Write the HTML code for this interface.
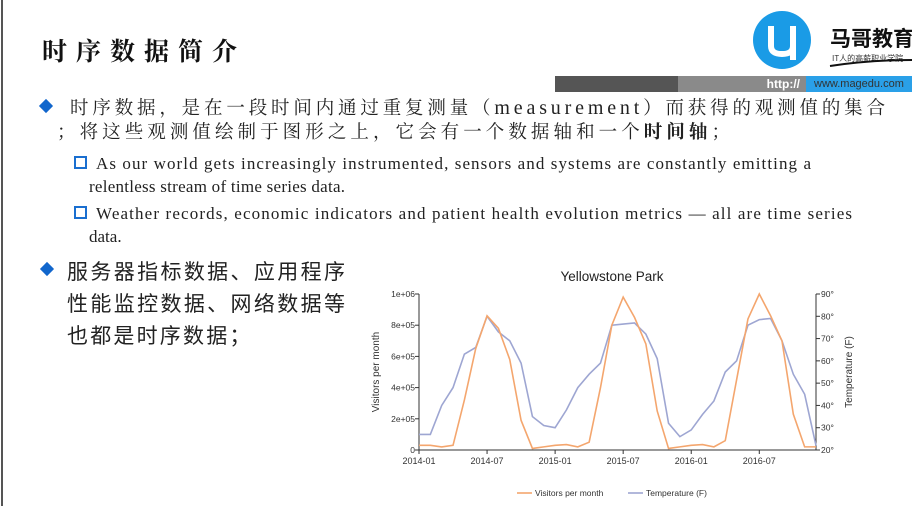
<!DOCTYPE html>
<html><head><meta charset="utf-8"><style>
body{margin:0;width:912px;height:506px;background:#fff;position:relative;overflow:hidden;font-family:"Liberation Sans","Noto Sans CJK SC",sans-serif}
.abs{position:absolute;white-space:nowrap}
.jl{text-align:justify;text-align-last:justify}
.dia{position:absolute;width:10px;height:10px;background:#1166cc;transform:rotate(45deg)}
.sq{position:absolute;width:9px;height:9px;border:2px solid #1a6fd0}
</style></head><body>
<div class="abs" style="left:1px;top:0;width:2px;height:506px;background:#555"></div>
<div class="abs" style="left:42px;top:32px;font-size:25px;letter-spacing:9px;font-family:'Noto Serif CJK SC',serif;font-weight:bold;color:#111">时序数据简介</div>
<svg class="abs" style="left:750px;top:8px" width="162" height="66">
<circle cx="32" cy="32" r="29" fill="#1a9be6"/>
<path d="M21 18 V38 Q21 46 32 46 Q43 46 43 38 V18" fill="none" stroke="#fff" stroke-width="6"/>
<path d="M43 38 V52" stroke="#fff" stroke-width="6"/>
<text x="80" y="38" font-size="21" font-weight="bold" font-family="Noto Sans CJK SC,sans-serif" fill="#111">马哥教育</text>
<text x="82" y="53" font-size="8" font-family="Noto Sans CJK SC,sans-serif" fill="#333">IT人的高薪职业学院</text>
<path d="M80 58 Q120 52 162 52" stroke="#111" stroke-width="2" fill="none"/>
</svg>
<div class="abs" style="left:555px;top:76px;width:357px;height:16px">
<div class="abs" style="left:0;top:0;width:123px;height:16px;background:#555"></div>
<div class="abs" style="left:123px;top:0;width:128px;height:16px;background:#8a8a8a;color:#fff;font-size:12px;font-weight:bold;text-align:right;line-height:16px"><span style="padding-right:6px">http://</span></div>
<div class="abs" style="left:251px;top:0;width:106px;height:16px;background:#2aa0e8;color:#333;font-size:11px;line-height:16px;padding-left:8px">www.magedu.com</div>
</div>

<div class="dia" style="left:41px;top:101px"></div>
<div class="sq" style="left:74px;top:156px"></div>
<div class="sq" style="left:74px;top:206px"></div>
<svg class="abs" style="left:0;top:0" width="912" height="250" font-family="Liberation Serif, Noto Serif CJK SC, serif" fill="#222">
<text x="70" y="114" font-size="18.5" textLength="815" lengthAdjust="spacing">时序数据，是在一段时间内通过重复测量（<tspan font-size="20">measurement</tspan>）而获得的观测值的集合</text>
<text x="57" y="138" font-size="18.5" textLength="673" lengthAdjust="spacing">；将这些观测值绘制于图形之上，它会有一个数据轴和一个<tspan font-weight="bold">时间轴</tspan>；</text>
<text x="96" y="169" font-size="17" textLength="715" lengthAdjust="spacing">As our world gets increasingly instrumented, sensors and systems are constantly emitting a</text>
<text x="89" y="192" font-size="17" textLength="256" lengthAdjust="spacing">relentless stream of time series data.</text>
<text x="96" y="219" font-size="17" textLength="756" lengthAdjust="spacing">Weather records, economic indicators and patient health evolution metrics — all are time series</text>
<text x="89" y="242" font-size="17">data.</text>
</svg>

<div class="dia" style="left:42px;top:264px"></div>
<div class="abs jl" style="left:67px;top:256px;width:278px;font-size:21px;color:#222">服务器指标数据、应用程序</div>
<div class="abs jl" style="left:67px;top:288px;width:278px;font-size:21px;color:#222">性能监控数据、网络数据等</div>
<div class="abs" style="left:67px;top:320px;font-size:21px;letter-spacing:2.2px;color:#222">也都是时序数据；</div>

<svg id="chart" class="abs" style="left:0;top:0" width="912" height="506"></svg>
<script>
const months=[];for(let y=2014;y<=2016;y++)for(let m=1;m<=12;m++)months.push(y+'-'+String(m).padStart(2,'0'));
const visitors=[0.3,0.3,0.2,0.3,3.2,6.5,8.6,7.8,5.8,1.9,0.1,0.2, 0.3,0.35,0.2,0.5,4.0,8.0,9.8,8.5,6.8,2.5,0.1,0.2, 0.3,0.35,0.2,0.6,4.5,8.4,10.0,8.6,7.0,2.3,0.2,0.2].map(v=>v*1e5);
const temperature=[27,27,40,48,63,66,80,73,69,59,35,31, 30,38,48,54,59,76,76.5,77,72,61,32,26, 29,36,42,55,60,76,78.5,79,69,54,45,22];
const leftTicks=[0,2e5,4e5,6e5,8e5,1e6];
const leftTickLabels=['0','2e+05','4e+05','6e+05','8e+05','1e+06'];
const rightTicks=[20,30,40,50,60,70,80,90];
const xTickIdx=[0,6,12,18,24,30];
const X0=419,X1=816,Y0=450,Y1=294;
const x=i=>X0+(X1-X0)*i/(months.length-1);
const yL=v=>Y0-(Y0-Y1)*v/1e6;
const yR=t=>Y0-(Y0-Y1)*(t-20)/70;
const svg=document.getElementById('chart');const NS='http://www.w3.org/2000/svg';
function mk(tag,attrs,txt){const e=document.createElementNS(NS,tag);for(const k in attrs)e.setAttribute(k,attrs[k]);if(txt!=null)e.textContent=txt;svg.appendChild(e);return e;}
let e;
e=mk('text',{x:612,y:281,'font-size':13.5,'text-anchor':'middle',fill:'#222'},'Yellowstone Park');


e=mk('line',{x1:X0,y1:Y1,x2:X0,y2:Y0,stroke:'#333'});


e=mk('line',{x1:X0,y1:Y0,x2:X1,y2:Y0,stroke:'#333'});


e=mk('line',{x1:X1,y1:Y1,x2:X1,y2:Y0,stroke:'#333'});


leftTicks.forEach((v,i)=>{mk('line',{x1:X0-4,x2:X0,y1:yL(v),y2:yL(v),stroke:'#333'});
e=mk('text',{x:X0-4,y:yL(v)+3,'font-size':8.5,'text-anchor':'end',fill:'#333'},leftTickLabels[i]);

});
rightTicks.forEach(t=>{mk('line',{x1:X1,x2:X1+4,y1:yR(t),y2:yR(t),stroke:'#333'});
e=mk('text',{x:X1+5,y:yR(t)+3,'font-size':8.5,fill:'#333'},t+'°');

});
xTickIdx.forEach(i=>{mk('line',{x1:x(i),x2:x(i),y1:Y0,y2:Y0+4,stroke:'#333'});
e=mk('text',{x:x(i),y:Y0+14,'font-size':9,'text-anchor':'middle',fill:'#333'},months[i]);

});
e=mk('text',{x:0,y:0,'font-size':10,'text-anchor':'middle',fill:'#333',transform:'translate(379,372) rotate(-90)'},'Visitors per month');


e=mk('text',{x:0,y:0,'font-size':10,'text-anchor':'middle',fill:'#333',transform:'translate(852,372) rotate(-90)'},'Temperature (F)');


e=mk('polyline',{points:temperature.map((t,i)=>x(i)+','+yR(t)).join(' '),fill:'none',stroke:'#9ea6d2','stroke-width':1.6});


e=mk('polyline',{points:visitors.map((v,i)=>x(i)+','+yL(v)).join(' '),fill:'none',stroke:'#f4a66e','stroke-width':1.6});


mk('line',{x1:517,x2:532,y1:493,y2:493,stroke:'#f4a66e','stroke-width':1.6});
e=mk('text',{x:535,y:496,'font-size':8.5,fill:'#333'},'Visitors per month');


mk('line',{x1:628,x2:643,y1:493,y2:493,stroke:'#9ea6d2','stroke-width':1.6});
e=mk('text',{x:646,y:496,'font-size':8.5,fill:'#333'},'Temperature (F)');


</script>
</body></html>
